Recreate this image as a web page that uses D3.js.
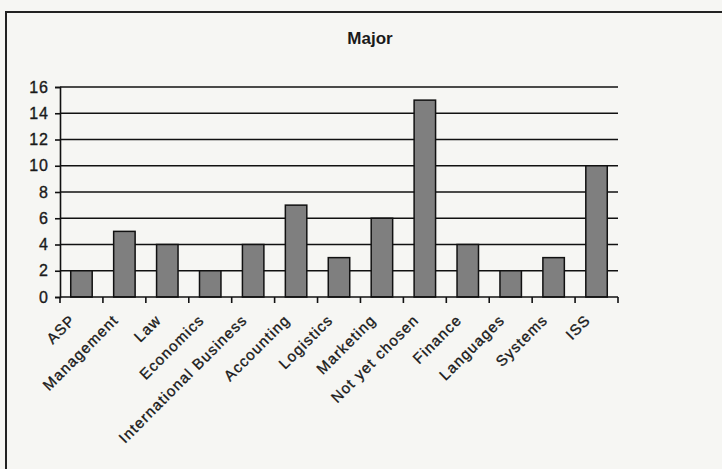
<!DOCTYPE html>
<meta charset="utf-8">
<style>
body { margin: 0; background: #f6f6f3; }
text { font-family: Arial, "Liberation Sans", sans-serif; fill: #1a1a1a; }
.lbl { stroke: #1a1a1a; stroke-width: 0.35px; }
.grid line { stroke: #111; stroke-width: 1.6px; }
.bars rect { fill: #7f7f7f; stroke: #111; stroke-width: 1.5px; }
</style>

<svg width="722" height="469"></svg>

<script src="https://d3js.org/d3.v7.min.js"></script>
<script>

var majors = ["ASP", "Management", "Law", "Economics", "International Business",
              "Accounting", "Logistics", "Marketing", "Not yet chosen", "Finance",
              "Languages", "Systems", "ISS"];
var counts = [2, 5, 4, 2, 4, 7, 3, 6, 15, 4, 2, 3, 10];
var yTicks = [0, 2, 4, 6, 8, 10, 12, 14, 16];
var title = "Major";

var svg = d3.select("svg");

var plotLeft = 60, plotRight = 618, plotTop = 87, plotBottom = 297;

var x = d3.scaleBand()
    .domain(majors)
    .range([plotLeft, plotRight]);

var y = d3.scaleLinear()
    .domain([0, 16])
    .range([plotBottom, plotTop]);

// outer frame (right and bottom edges run off the page)
svg.append("rect")
    .attr("x", 6).attr("y", 12)
    .attr("width", 740).attr("height", 480)
    .attr("fill", "none")
    .attr("stroke", "#222")
    .attr("stroke-width", 2);

svg.append("text")
    .attr("x", 370).attr("y", 44)
    .attr("text-anchor", "middle")
    .style("font-size", "17px")
    .style("font-weight", "bold")
    .text(title);

// gridlines
svg.append("g")
    .attr("class", "grid")
  .selectAll("line")
  .data(yTicks.slice(1))
  .enter().append("line")
    .attr("x1", plotLeft).attr("x2", plotRight)
    .attr("y1", function(d) { return y(d); })
    .attr("y2", function(d) { return y(d); });

// bars
var bw = x.bandwidth();
svg.append("g")
    .attr("class", "bars")
  .selectAll("rect")
  .data(counts)
  .enter().append("rect")
    .attr("x", function(d, i) { return x(majors[i]) + bw * 0.25; })
    .attr("width", bw * 0.5)
    .attr("y", function(d) { return y(d); })
    .attr("height", function(d) { return y(0) - y(d); });

// y axis
var yAxis = svg.append("g")
    .attr("transform", "translate(" + plotLeft + ",0)")
    .call(d3.axisLeft(y).tickValues(yTicks).tickSize(5).tickPadding(6));
yAxis.select(".domain").attr("stroke", "#111").attr("stroke-width", 1.6);
yAxis.selectAll(".tick line").attr("stroke", "#111").attr("stroke-width", 1.6);
yAxis.selectAll(".tick text")
    .attr("class", "lbl")
    .style("font-size", "16px")
    .style("letter-spacing", "1px")
    .attr("fill", "#1a1a1a");

// x axis line and ticks at category boundaries
var bounds = majors.map(function(d) { return x(d); }).concat([plotRight]);
svg.append("line")
    .attr("x1", plotLeft).attr("x2", plotRight)
    .attr("y1", plotBottom).attr("y2", plotBottom)
    .attr("stroke", "#111").attr("stroke-width", 1.6);
svg.append("g").selectAll("line")
  .data(bounds)
  .enter().append("line")
    .attr("x1", function(d) { return d; }).attr("x2", function(d) { return d; })
    .attr("y1", plotBottom).attr("y2", plotBottom + 6)
    .attr("stroke", "#111").attr("stroke-width", 1.6);

// rotated category labels
svg.append("g").selectAll("text")
  .data(majors)
  .enter().append("text")
    .attr("class", "lbl")
    .attr("transform", function(d) {
      return "translate(" + (x(d) + bw / 2 - 5) + "," + (plotBottom + 24) + ") rotate(-45)";
    })
    .attr("text-anchor", "end")
    .style("font-size", "15px")
    .style("letter-spacing", "1.2px")
    .text(function(d) { return d; });

</script>
